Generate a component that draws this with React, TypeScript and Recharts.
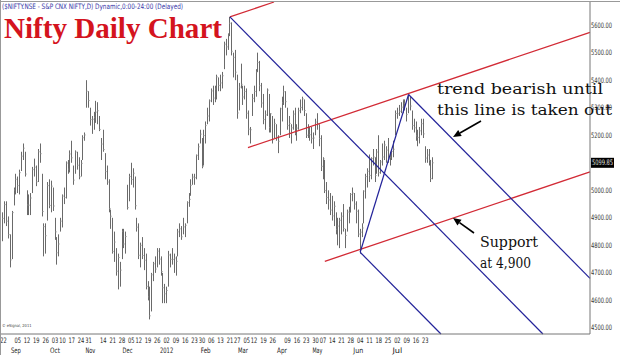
import { Bar, ComposedChart, ReferenceLine, XAxis, YAxis } from "recharts";

document.body.style.margin = "0";

const NARROW = "'Liberation Sans Narrow', 'DejaVu Sans Condensed', 'Arial Narrow', sans-serif";

// NSE closed days inside the range
const holidays = [
  "2011-08-31", "2011-09-01", "2011-10-06", "2011-10-27", "2011-11-07", "2011-11-10",
  "2011-12-06", "2012-01-26", "2012-02-20", "2012-03-08", "2012-04-05", "2012-04-06", "2012-05-01",
];
const hiddenDayLabels = ["2011-08-29", "2011-11-08", "2012-04-02"];

function tradingDays(start: string, end: string) {
  const out: string[] = [];
  const d = new Date(start + "T00:00:00Z");
  const e = new Date(end + "T00:00:00Z");
  while (d <= e) {
    const wd = d.getUTCDay();
    const s = d.toISOString().slice(0, 10);
    if (wd !== 0 && wd !== 6 && !holidays.includes(s)) out.push(s);
    d.setUTCDate(d.getUTCDate() + 1);
  }
  return out;
}

const dates = tradingDays("2011-08-22", "2012-07-27");

// one line per week
const highs = [
  4920, 4960, 4960, 4905, 4840,
  4925, 5010, 5060,
  5050, 5075, 5140, 5170, 5140,
  5000, 4985, 4990, 5085, 5115,
  5090, 5150, 5170, 5060, 4880,
  4880, 5030, 5040, 5035, 5010,
  4900, 4830, 4840, 4900,
  4985, 5010, 5105, 5110, 5145,
  5180, 5090, 5145, 5140, 5120,
  5110, 5200, 5210, 5400,
  5360, 5300, 5270, 5285, 5325,
  5320, 5270, 5190,
  5220, 5135, 5090, 5040, 4930,
  4900, 4850, 4790, 4770, 4740,
  4860, 4860, 4850, 5020, 5060,
  5100, 5080, 5050, 4900,
  4880, 4810, 4830, 4790, 4770,
  4670, 4650, 4700, 4740, 4760,
  4790, 4790, 4760, 4700, 4660,
  4650, 4780, 4770, 4790, 4770,
  4760, 4860, 4880, 4870, 4900,
  4880, 4960, 4990, 5040, 5060,
  5060, 5130, 5170, 5220,
  5190, 5220, 5250, 5300, 5330,
  5370, 5380, 5380, 5420, 5410,
  5420, 5430, 5540, 5550, 5570,
  5630, 5610, 5500, 5510,
  5420, 5390, 5460, 5380, 5380,
  5370, 5290, 5230, 5350,
  5380, 5440, 5500, 5470, 5390,
  5350, 5290, 5370, 5350, 5280,
  5270, 5260, 5240, 5200, 5300,
  5340, 5380, 5360,
  5300, 5270, 5240, 5290, 5300,
  5240, 5300, 5330, 5340, 5330,
  5280, 5240, 5230, 5230, 5210,
  5260, 5280, 5240, 5200,
  5120, 5110, 5030, 5000, 4990,
  4980, 4960, 4920, 4900, 4900,
  4920, 4950, 4860, 4930, 4940,
  4990, 5010, 4990, 4960, 4930,
  4860, 4880, 5000, 5060, 5080,
  5130, 5120, 5150, 5120, 5150,
  5200, 5110, 5170, 5180, 5160,
  5190, 5140, 5150, 5180, 5290,
  5300, 5310, 5320, 5330, 5330,
  5300, 5348, 5340, 5290, 5260,
  5250, 5220, 5230, 5260, 5260,
  5160, 5150, 5150, 5110, 5120,
];

const lows = [
  4815, 4880, 4870, 4825, 4720,
  4750, 4945, 4985,
  4990, 4985, 5070, 5110, 5050,
  4910, 4910, 4910, 4990, 5050,
  5015, 5030, 5100, 4905, 4760,
  4770, 4890, 4935, 4920, 4925,
  4820, 4730, 4760, 4850,
  4865, 4950, 4970, 5060, 5065,
  5100, 5020, 5060, 5075, 5040,
  5050, 5110, 5180, 5300,
  5300, 5235, 5205, 5220, 5245,
  5240, 5215, 5110,
  5140, 5040, 5020, 4920, 4860,
  4770, 4740, 4690, 4640, 4650,
  4750, 4790, 4770, 4930, 4960,
  5020, 5010, 4930, 4850,
  4750, 4720, 4750, 4710, 4640,
  4600, 4531, 4560, 4670, 4700,
  4720, 4730, 4690, 4590, 4590,
  4590, 4650, 4720, 4730, 4700,
  4690, 4760, 4830, 4820, 4840,
  4830, 4880, 4940, 4980, 5020,
  5020, 5040, 5110, 5170,
  5080, 5090, 5170, 5240, 5250,
  5320, 5310, 5320, 5330, 5360,
  5360, 5370, 5440, 5490, 5510,
  5560, 5490, 5410, 5400,
  5260, 5290, 5370, 5310, 5330,
  5260, 5200, 5170, 5270,
  5320, 5340, 5430, 5360, 5300,
  5240, 5220, 5270, 5210, 5210,
  5170, 5190, 5180, 5135, 5200,
  5250, 5310, 5300,
  5220, 5190, 5170, 5220, 5200,
  5180, 5220, 5280, 5290, 5270,
  5190, 5190, 5180, 5170, 5150,
  5200, 5220, 5160, 5070,
  5040, 4990, 4950, 4930, 4910,
  4890, 4870, 4840, 4800, 4790,
  4840, 4850, 4790, 4850, 4880,
  4920, 4960, 4930, 4880, 4830,
  4770, 4830, 4880, 4970, 5010,
  5030, 5040, 5090, 5030, 5060,
  5050, 5060, 5090, 5110, 5100,
  5100, 5090, 5110, 5120, 5200,
  5260, 5270, 5280, 5280, 5290,
  5250, 5280, 5290, 5220, 5210,
  5180, 5160, 5170, 5200, 5190,
  5100, 5100, 5090, 5030, 5040,
];

const closes = [
  4898, 4948, 4888, 4839, 4747,
  4919, 5001, 5040,
  5017, 5064, 5124, 5153, 5059,
  4947, 4946, 4972, 5075, 5084,
  5031, 5140, 5133, 4923, 4868,
  4835, 5017, 4945, 5015, 4943,
  4849, 4773, 4805, 4888,
  4979, 4974, 5099, 5077, 5132,
  5118, 5037, 5139, 5091, 5049,
  5098, 5191, 5201, 5360,
  5326, 5257, 5258, 5265, 5284,
  5289, 5221, 5168,
  5148, 5068, 5030, 4934, 4906,
  4778, 4812, 4706, 4756, 4710,
  4851, 4805, 4832, 4937, 5050,
  5039, 5062, 4944, 4866,
  4764, 4800, 4763, 4746, 4651,
  4613, 4544, 4693, 4733, 4714,
  4779, 4750, 4705, 4646, 4624,
  4636, 4765, 4749, 4749, 4754,
  4742, 4849, 4860, 4831, 4867,
  4873, 4955, 4967, 5018, 5048,
  5046, 5127, 5158, 5204,
  5087, 5199, 5235, 5270, 5325,
  5361, 5335, 5368, 5412, 5381,
  5390, 5416, 5531, 5521, 5564,
  5607, 5505, 5483, 5429,
  5281, 5375, 5385, 5339, 5359,
  5280, 5222, 5220, 5334,
  5359, 5430, 5464, 5380, 5317,
  5257, 5274, 5364, 5228, 5278,
  5184, 5243, 5194, 5178, 5296,
  5318, 5358, 5322,
  5235, 5243, 5227, 5277, 5207,
  5226, 5289, 5301, 5332, 5290,
  5200, 5222, 5202, 5189, 5190,
  5248, 5239, 5188, 5087,
  5114, 4999, 4974, 4965, 4928,
  4907, 4942, 4858, 4870, 4891,
  4906, 4861, 4836, 4921, 4920,
  4985, 4990, 4950, 4924, 4841,
  4848, 4863, 4997, 5050, 5069,
  5054, 5115, 5121, 5054, 5139,
  5064, 5103, 5121, 5165, 5146,
  5114, 5120, 5141, 5149, 5279,
  5278, 5287, 5302, 5327, 5316,
  5275, 5345, 5306, 5235, 5227,
  5198, 5192, 5216, 5242, 5205,
  5117, 5128, 5109, 5043, 5099.85,
];

const priceTicks = [4500, 4600, 4700, 4800, 4900, 5000, 5100, 5200, 5300, 5400, 5500, 5600];
const monthNames = ["2012", "Feb", "Mar", "Apr", "May", "Jun", "Jul", "Aug", "Sep", "Oct", "Nov", "Dec"];

// trend lines: [bar index, price] pairs (index runs past the last bar into empty space)
const redLines = [
  [[122, 5630], [145.7, 5684]],
  [[131.7, 5155], [315.5, 5574]],
  [[173, 4742], [315.5, 5067]],
];
const blueLines = [
  [[122, 5630], [290.2, 4478]],
  [[218, 5348], [315.5, 4680]],
  [[192, 4775], [235.4, 4478]],
  [[192, 4775], [218, 5348]],
];

const rows = dates.map((d, i) => ({ i, date: d, range: [lows[i], highs[i]], close: closes[i] }));
const lastClose = closes[closes.length - 1];

const dow = (s: string) => new Date(s + "T00:00:00Z").getUTCDay();
const weekTicks = rows.filter((r, i) => i === 0 || dow(r.date) <= dow(dates[i - 1])).map((r) => r.i);
const monthTicks = rows.filter((r, i) => i > 0 && r.date.slice(5, 7) !== dates[i - 1].slice(5, 7)).map((r) => r.i);

function OhlcBar(props: any) {
  const { x, y, width, height, payload } = props;
  if (x == null || y == null) return null;
  const top = Math.min(y, y + height);
  const h = Math.abs(height);
  const cx = Math.round(x + width / 2) + 0.5;
  const [low, high] = payload.range;
  const cy = top + ((high - payload.close) / (high - low || 1)) * h;
  return (
    <g>
      <line x1={cx} x2={cx} y1={top} y2={top + h} stroke="#6a6a6a" strokeWidth={1} />
      <line x1={cx} x2={cx + 1.2} y1={cy} y2={cy} stroke="#a0a0a0" strokeWidth={1} />
    </g>
  );
}

function DayTick({ x, y, payload }: any) {
  const d = dates[payload.value];
  if (!d || hiddenDayLabels.includes(d)) return null;
  return (
    <text x={Math.max(x, 3.5)} y={y + 9} textAnchor="middle" fontSize={7.5} fontFamily={NARROW} fill="#222" textLength={6.5} lengthAdjust="spacingAndGlyphs">
      {d.slice(8, 10)}
    </text>
  );
}

function MonthTick({ x, y, payload }: any) {
  const d = dates[payload.value];
  if (!d) return null;
  const label = monthNames[Number(d.slice(5, 7)) - 1];
  return (
    <text x={x} y={y + 9} textAnchor="middle" fontSize={7.5} fontFamily={NARROW} fill="#222" textLength={label.length * 3.3} lengthAdjust="spacingAndGlyphs">
      {label}
    </text>
  );
}

function PriceTick({ x, y, payload }: any) {
  return (
    <text x={x + 1} y={y + 2.5} fontSize={7.5} fontFamily={NARROW} fill="#333" textLength={21} lengthAdjust="spacingAndGlyphs">
      {payload.value.toFixed(2)}
    </text>
  );
}

function PriceTag(props: any) {
  const vb = props.viewBox;
  if (!vb) return null;
  const x = vb.x + vb.width + 1;
  return (
    <g>
      <rect x={x} y={vb.y - 5} width={23} height={10} fill="#000" />
      <text x={x + 1} y={vb.y + 2.5} fontSize={7.5} fontFamily={NARROW} fill="#fff" textLength={21} lengthAdjust="spacingAndGlyphs">
        {lastClose.toFixed(2)}
      </text>
    </g>
  );
}

function Arrow({ from, to }: { from: number[]; to: number[] }) {
  const ang = Math.atan2(to[1] - from[1], to[0] - from[0]);
  const len = 8;
  const w = 3.5;
  const bx = to[0] - len * Math.cos(ang);
  const by = to[1] - len * Math.sin(ang);
  const px = -Math.sin(ang) * w;
  const py = Math.cos(ang) * w;
  return (
    <g>
      <line x1={from[0]} y1={from[1]} x2={bx} y2={by} stroke="#000" strokeWidth={1.6} />
      <polygon points={`${to[0]},${to[1]} ${bx + px},${by + py} ${bx - px},${by - py}`} fill="#000" />
    </g>
  );
}

const SERIF = "'DejaVu Serif', serif";

export default function App() {
  return (
    <div style={{ position: "relative", width: 620, height: 355, background: "#fff" }}>
      <ComposedChart width={620} height={355} data={rows} margin={{ top: 2, right: 0, bottom: 0, left: 1 }}>
        <XAxis
          xAxisId="day"
          dataKey="i"
          type="number"
          domain={[-1, 315.5]}
          allowDataOverflow
          ticks={weekTicks}
          interval={0}
          tickLine={false}
          tickSize={0}
          tickMargin={0}
          height={10}
          axisLine={{ stroke: "#777" }}
          tick={<DayTick />}
        />
        <XAxis
          xAxisId="month"
          dataKey="i"
          type="number"
          domain={[-1, 315.5]}
          allowDataOverflow
          ticks={monthTicks}
          interval={0}
          tickLine={false}
          tickSize={0}
          tickMargin={0}
          height={11}
          axisLine={false}
          tick={<MonthTick />}
        />
        <YAxis
          orientation="right"
          width={30}
          domain={[4478, 5684]}
          allowDataOverflow
          ticks={priceTicks}
          interval={0}
          tickLine={false}
          tickSize={0}
          tickMargin={0}
          axisLine={{ stroke: "#777" }}
          tick={<PriceTick />}
        />
        <Bar xAxisId="day" dataKey="range" barSize={1} shape={<OhlcBar />} isAnimationActive={false} />
        {redLines.map((s, k) => (
          <ReferenceLine
            key={`r${k}`}
            xAxisId="day"
            ifOverflow="visible"
            segment={[{ x: s[0][0], y: s[0][1] }, { x: s[1][0], y: s[1][1] }]}
            stroke="#d22a35"
            strokeWidth={1.3}
          />
        ))}
        {blueLines.map((s, k) => (
          <ReferenceLine
            key={`b${k}`}
            xAxisId="day"
            ifOverflow="visible"
            segment={[{ x: s[0][0], y: s[0][1] }, { x: s[1][0], y: s[1][1] }]}
            stroke="#23239a"
            strokeWidth={1.2}
          />
        ))}
        <ReferenceLine xAxisId="day" y={lastClose} stroke="none" label={(p: any) => <PriceTag {...p} />} />
      </ComposedChart>
      <svg width={620} height={355} style={{ position: "absolute", left: 0, top: 0, pointerEvents: "none" }}>
        <line x1={0} x2={620} y1={1.5} y2={1.5} stroke="#999" />
        <line x1={0.5} x2={0.5} y1={0} y2={355} stroke="#999" />
        <text x={2} y={9} fontSize={7.5} fontFamily={NARROW} fill="#3838a8" textLength={181} lengthAdjust="spacingAndGlyphs">
          ($NIFTY.NSE - S&amp;P CNX NIFTY,D) Dynamic,0:00-24:00 (Delayed)
        </text>
        <text x={4} y={38} fontSize={29} fontWeight="bold" fontFamily="'Liberation Serif', serif" fill="#d4141e" textLength={218} lengthAdjust="spacingAndGlyphs">
          Nifty Daily Chart
        </text>
        <text x={2} y={327} fontSize={4} fontFamily={NARROW} fill="#444">
          © eSignal, 2011
        </text>
        <text x={437} y={94} fontSize={14} fontFamily={SERIF} fill="#111" textLength={166} lengthAdjust="spacingAndGlyphs">
          trend bearish until
        </text>
        <text x={437} y={115} fontSize={14} fontFamily={SERIF} fill="#111" textLength={175} lengthAdjust="spacingAndGlyphs">
          this line is taken out
        </text>
        <text x={480} y={247} fontSize={14} fontFamily={SERIF} fill="#111" textLength={58} lengthAdjust="spacingAndGlyphs">
          Support
        </text>
        <text x={480} y={268} fontSize={14} fontFamily={SERIF} fill="#111" textLength={51} lengthAdjust="spacingAndGlyphs">
          at 4,900
        </text>
        <Arrow from={[481, 121]} to={[453, 137]} />
        <Arrow from={[474, 233]} to={[453, 218]} />
      </svg>
    </div>
  );
}
